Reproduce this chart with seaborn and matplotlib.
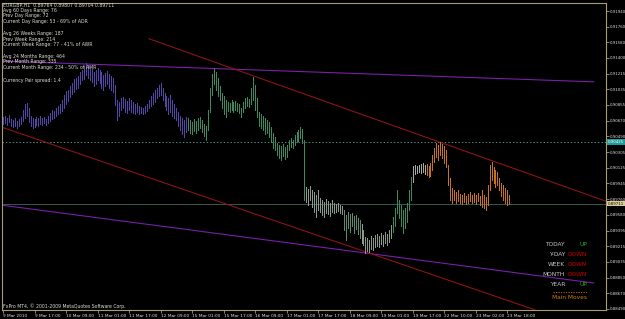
import matplotlib
matplotlib.use("Agg")
import matplotlib.pyplot as plt
from matplotlib.lines import Line2D
import numpy as np
import pandas as pd
import seaborn as sns

# ---------------- data (EURGBP H1) ----------------
highs = [
 0.90713,0.90724,0.90701,0.90736,0.90690,0.90678,0.90701,0.90666,0.90690,0.90713,
 0.90794,0.90863,0.90875,0.90817,0.90724,0.90701,0.90690,0.90713,0.90701,0.90724,
 0.90701,0.90713,0.90690,0.90724,0.90759,0.90794,0.90782,0.90817,0.90840,0.90863,
 0.90910,0.90967,0.91014,0.91025,0.91072,0.91106,0.91153,0.91164,0.91188,0.91234,
 0.91257,0.91303,0.91338,0.91315,0.91292,0.91269,0.91234,0.91257,0.91280,0.91257,
 0.91234,0.91199,0.91222,0.91245,0.91211,0.91188,0.91164,0.91083,0.90910,0.90886,
 0.90933,0.90944,0.90921,0.90898,0.90933,0.90910,0.90886,0.90863,0.90875,0.90840,
 0.90829,0.90817,0.90840,0.90863,0.90910,0.90956,0.90991,0.91025,0.91049,0.91083,
 0.91106,0.91049,0.90991,0.90956,0.90933,0.90967,0.90910,0.90863,0.90817,0.90771,
 0.90724,0.90701,0.90678,0.90713,0.90701,0.90678,0.90655,0.90690,0.90666,0.90701,
 0.90713,0.90678,0.90632,0.90609,0.90794,0.91049,0.91211,0.91280,0.91234,0.91164,
 0.91072,0.90991,0.90956,0.90910,0.90886,0.90875,0.90910,0.90886,0.90898,0.90875,
 0.90863,0.90817,0.90886,0.90933,0.90944,0.90921,0.91049,0.91176,0.91083,0.90933,
 0.90771,0.90747,0.90724,0.90701,0.90678,0.90655,0.90597,0.90527,0.90481,0.90412,
 0.90389,0.90377,0.90400,0.90365,0.90389,0.90446,0.90470,0.90446,0.90504,0.90539,
 0.90562,0.90597,0.90574,0.90446,0.89902,0.89879,0.89914,0.89868,0.89844,0.89810,
 0.89868,0.89775,0.89752,0.89729,0.89763,0.89740,0.89717,0.89752,0.89717,0.89705,
 0.89717,0.89694,0.89682,0.89636,0.89578,0.89613,0.89590,0.89601,0.89566,0.89578,
 0.89543,0.89520,0.89474,0.89404,0.89323,0.89312,0.89288,0.89335,0.89312,0.89346,
 0.89358,0.89335,0.89370,0.89346,0.89381,0.89358,0.89404,0.89462,0.89555,0.89659,
 0.89868,0.89752,0.89694,0.89636,0.89659,0.89717,0.89868,0.90018,0.90145,0.90157,
 0.90145,0.90157,0.90169,0.90180,0.90157,0.90169,0.90145,0.90180,0.90273,0.90354,
 0.90412,0.90389,0.90423,0.90400,0.90377,0.90331,0.90157,0.90006,0.89891,0.89868,
 0.89844,0.89868,0.89821,0.89810,0.89833,0.89798,0.89821,0.89844,0.89810,0.89833,
 0.89810,0.89833,0.89798,0.89868,0.89810,0.89786,0.89925,0.90157,0.90192,0.90134,
 0.90099,0.90076,0.90006,0.89949,0.89925,0.89891,0.89868,0.89807]

lows = [
 0.90632,0.90643,0.90620,0.90655,0.90609,0.90597,0.90609,0.90585,0.90609,0.90632,
 0.90666,0.90701,0.90724,0.90655,0.90609,0.90585,0.90597,0.90620,0.90609,0.90632,
 0.90620,0.90643,0.90620,0.90643,0.90666,0.90690,0.90701,0.90724,0.90747,0.90759,
 0.90782,0.90817,0.90863,0.90898,0.90944,0.90979,0.91002,0.91037,0.91049,0.91095,
 0.91141,0.91153,0.91199,0.91164,0.91141,0.91118,0.91072,0.91095,0.91141,0.91106,
 0.91049,0.91025,0.91072,0.91095,0.91049,0.91025,0.91002,0.90852,0.90678,0.90724,
 0.90794,0.90817,0.90771,0.90759,0.90794,0.90771,0.90759,0.90747,0.90771,0.90747,
 0.90759,0.90747,0.90759,0.90782,0.90817,0.90840,0.90863,0.90886,0.90933,0.90956,
 0.90967,0.90910,0.90840,0.90794,0.90747,0.90771,0.90724,0.90701,0.90678,0.90609,
 0.90562,0.90516,0.90481,0.90539,0.90562,0.90527,0.90516,0.90551,0.90527,0.90562,
 0.90585,0.90539,0.90493,0.90446,0.90562,0.90771,0.90967,0.91095,0.91025,0.90956,
 0.90910,0.90817,0.90747,0.90713,0.90782,0.90771,0.90794,0.90771,0.90794,0.90782,
 0.90759,0.90713,0.90771,0.90817,0.90840,0.90829,0.90863,0.90910,0.90794,0.90713,
 0.90609,0.90585,0.90562,0.90516,0.90527,0.90481,0.90423,0.90354,0.90331,0.90273,
 0.90238,0.90215,0.90261,0.90226,0.90250,0.90331,0.90365,0.90354,0.90389,0.90423,
 0.90435,0.90470,0.90412,0.89752,0.89729,0.89694,0.89752,0.89671,0.89613,0.89555,
 0.89636,0.89613,0.89578,0.89555,0.89601,0.89590,0.89566,0.89613,0.89601,0.89613,
 0.89624,0.89601,0.89590,0.89404,0.89288,0.89427,0.89381,0.89451,0.89370,0.89416,
 0.89358,0.89312,0.89254,0.89230,0.89138,0.89161,0.89149,0.89184,0.89173,0.89207,
 0.89219,0.89207,0.89242,0.89219,0.89254,0.89230,0.89265,0.89312,0.89381,0.89451,
 0.89601,0.89543,0.89451,0.89370,0.89427,0.89497,0.89636,0.89752,0.89960,0.90053,
 0.90064,0.90076,0.90064,0.90076,0.90053,0.90041,0.90018,0.90030,0.90099,0.90192,
 0.90250,0.90215,0.90273,0.90238,0.90180,0.90134,0.89925,0.89752,0.89717,0.89752,
 0.89717,0.89740,0.89717,0.89705,0.89729,0.89705,0.89717,0.89740,0.89717,0.89729,
 0.89705,0.89740,0.89694,0.89671,0.89659,0.89636,0.89694,0.89868,0.89983,0.89949,
 0.89902,0.89925,0.89868,0.89798,0.89752,0.89717,0.89694,0.89704]

# colour segments of the bar chart (start bar index of each segment)
seg_starts = [0, 94, 154, 173, 182, 198, 208, 215]
seg_colors = ["#5544a8", "#3b8a62", "#8a9a8c", "#5c8a72", "#8a9a8c",
              "#3b8a62", "#a4aca4", "#c8741e"]

x_tick_bars = [0, 16, 32, 48, 64, 80, 96, 112, 128, 144, 160, 176, 192, 208, 224, 240, 256]
x_tick_labels = ["9 Mar 2010", "9 Mar 17:00", "10 Mar 09:00", "11 Mar 01:00", "11 Mar 17:00",
                 "12 Mar 09:00", "15 Mar 01:00", "15 Mar 17:00", "16 Mar 09:00", "17 Mar 01:00",
                 "17 Mar 17:00", "18 Mar 09:00", "19 Mar 01:00", "19 Mar 17:00", "22 Mar 10:00",
                 "23 Mar 02:00", "23 Mar 18:00"]

price_ticks = [0.91940, 0.91760, 0.91580, 0.91400, 0.91215, 0.91035, 0.90855, 0.90670,
               0.90490, 0.90305, 0.90125, 0.89945, 0.89760, 0.89580, 0.89395, 0.89215,
               0.89035, 0.88850, 0.88670, 0.88490]

# trend lines: (bar index pair, price pair)
upper_purple = ([0, 300], [0.9136, 0.9112])
lower_purple = ([0, 300], [0.8969, 0.8879])
upper_red = ([74, 307], [0.9162, 0.8973])
lower_red = ([0, 270], [0.9059, 0.8848])

level_dotted = 0.90425
level_solid = 0.89711

info_lines = ["EURGBP,H1  0.89764 0.89807 0.89704 0.89711",
              "Avg 60 Days Range: 76",
              "Prev Day Range: 72",
              "Current Day Range: 53 - 69% of ADR",
              "Avg 26 Weeks Range: 187",
              "Prev Week Range: 214",
              "Current Week Range: 77 - 41% of AWR",
              "Avg 24 Months Range: 464",
              "Prev Month Range: 335",
              "Current Month Range: 234 - 50% of AMR",
              "Currency Pair spread: 1.4"]
info_y = [5, 10.5, 16, 21.5, 33.5, 39, 44.5, 56.5, 62, 67.5, 80.5]

trend_names = ["TODAY", "Y-DAY", "WEEK", "MONTH", "YEAR"]
trend_values = ["UP", "DOWN", "DOWN", "DOWN", "UP"]

# ---------------- drawing ----------------
sns.set_theme(style="dark")
W, H = 625, 319
fig = plt.figure(figsize=(W / 100, H / 100), dpi=100, facecolor="black")
ax = fig.add_axes([2 / W, 9 / H, 604 / W, 307 / H])
ax.set_facecolor("black")

df = pd.DataFrame({"bar": np.arange(len(highs)), "high": highs, "low": lows})
cols = []
bounds = seg_starts + [len(df)]
for k in range(len(seg_starts)):
    cols += [seg_colors[k]] * (bounds[k + 1] - bounds[k])
df["color"] = cols
ax.vlines(df["bar"].to_numpy(), df["low"].to_numpy(), df["high"].to_numpy(),
          colors=list(df["color"]), linewidth=0.72, antialiased=False, zorder=3)

tl = pd.DataFrame({
    "x": upper_purple[0] + lower_purple[0] + upper_red[0] + lower_red[0],
    "y": upper_purple[1] + lower_purple[1] + upper_red[1] + lower_red[1],
    "line": ["up_p"] * 2 + ["lo_p"] * 2 + ["up_r"] * 2 + ["lo_r"] * 2,
})
sns.lineplot(data=tl, x="x", y="y", hue="line", estimator=None, sort=False,
             palette={"up_p": "#7a1fa8", "lo_p": "#7a1fa8", "up_r": "#8b1418", "lo_r": "#8b1418"},
             linewidth=0.8, legend=False, ax=ax, zorder=2)

ax.axhline(level_dotted, color="#4e8c86", lw=0.7, ls=(0, (1.5, 2)), zorder=1)
ax.axhline(level_solid, color="#2f5a52", lw=0.7, zorder=1)

ax.set_xlim(-0.5, 306.1)
ax.set_ylim(0.88478, 0.92033)
ax.set_xlabel("")
ax.set_ylabel("")

frame = "#a89c70"
for s in ax.spines.values():
    s.set_color(frame)
    s.set_linewidth(0.8)

ax.yaxis.tick_right()
ax.set_yticks(price_ticks)
ax.set_yticklabels([f"{p:.5f}" for p in price_ticks])
ax.tick_params(axis="y", which="both", right=True, left=False, length=2.0, width=0.6,
               color=frame, labelcolor="#e0e0e0", labelsize=2.8, pad=0.4)
ax.set_xticks(x_tick_bars)
ax.set_xticklabels(x_tick_labels, ha="left")
ax.tick_params(axis="x", which="both", bottom=True, length=2.2, width=0.6, color=frame,
               labelcolor="#e0e0e0", labelsize=3.1, pad=0.4)
ax.grid(False)

# highlighted current levels on price scale
ax.text(1.003, level_dotted, f"{level_dotted:.5f}", transform=ax.get_yaxis_transform(),
        ha="left", va="center", fontsize=2.8, color="white", zorder=10, clip_on=False,
        bbox=dict(boxstyle="square,pad=0.25", fc="#1f9a9a", ec="none"))
ax.text(1.003, level_solid, f"{level_solid:.5f}", transform=ax.get_yaxis_transform(),
        ha="left", va="center", fontsize=2.8, color="black", zorder=10, clip_on=False,
        bbox=dict(boxstyle="square,pad=0.25", fc="#d8cc98", ec="none"))

# info text
for t, y in zip(info_lines, info_y):
    fig.text(3 / W, 1 - y / H, t, fontsize=3.3, color="#dcdcd0", ha="left", va="center")

fig.text(3 / W, 1 - 306 / H, "FxPro MT4, \u00a9 2001-2009 MetaQuotes Software Corp.",
         fontsize=3.3, color="#dcdcd0", ha="left", va="center")

# trend panel
for k, (n, v) in enumerate(zip(trend_names, trend_values)):
    y = 245 + 10 * k
    fig.text(565 / W, 1 - y / H, n, fontsize=4.2, color="#c8c8c8", ha="right", va="center")
    fig.text(587 / W, 1 - y / H, v, fontsize=4.2,
             color="#1fae1f" if v == "UP" else "#c80000", ha="right", va="center")
fig.add_artist(Line2D([553 / W, 588 / W], [1 - 292 / H, 1 - 292 / H], color="#c87010",
                      lw=0.6, ls=(0, (1.5, 1.5))))
fig.text(570 / W, 1 - 297.5 / H, "Main Moves", fontsize=4.2, color="#d07a10",
         ha="center", va="center")

fig.savefig("out.png", dpi=100, facecolor="black")
